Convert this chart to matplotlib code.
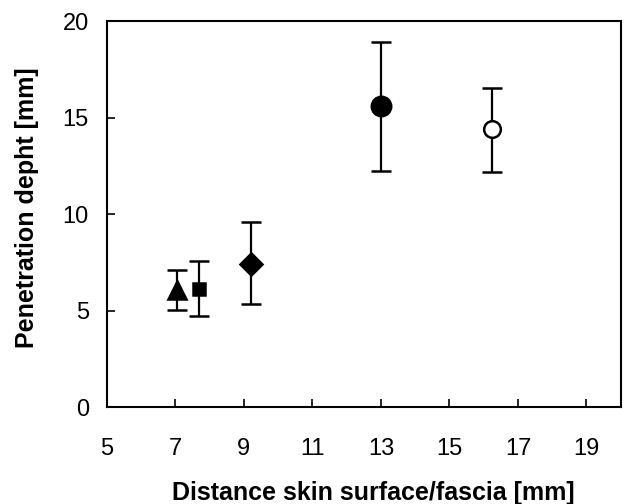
import matplotlib
matplotlib.use("Agg")
import matplotlib.pyplot as plt

plt.rcParams['font.family'] = ['Liberation Sans', 'DejaVu Sans']

x_vals = [7.05, 7.7, 9.2, 13.0, 16.25]
y_vals = [6.06, 6.1, 7.44, 15.6, 14.39]
err_low = [5.06, 4.75, 5.33, 12.23, 12.19]
err_high = [7.13, 7.58, 9.58, 18.93, 16.56]
markers = ['^', 's', 'D', 'o', 'o']
marker_sizes = [13, 9, 11, 14, 12]
face_colors = ['black', 'black', 'black', 'black', 'white']

fig = plt.figure(figsize=(6.36, 5.04), dpi=100)
ax = fig.add_axes([0.168, 0.192, 0.808, 0.766])

for x, y, lo, hi, m, ms, fc in zip(x_vals, y_vals, err_low, err_high, markers, marker_sizes, face_colors):
    ax.errorbar([x], [y], yerr=[[y - lo], [hi - y]], fmt=m, ms=ms, mfc=fc, mec='black',
                mew=1.8, ecolor='black', elinewidth=1.6, capsize=7, capthick=1.6, zorder=3)

ax.set_xlim(5, 20)
ax.set_ylim(0, 20)
ax.set_xticks([5, 7, 9, 11, 13, 15, 17, 19])
ax.set_yticks([0, 5, 10, 15, 20])
ax.tick_params(direction='in', length=6, width=1.2, labelsize=17)
ax.tick_params(axis='x', pad=22)
ax.tick_params(axis='y', pad=13)
for s in ax.spines.values():
    s.set_linewidth(1.5)
ax.set_xlabel('Distance skin surface/fascia [mm]', fontsize=18, fontweight='bold')
ax.set_ylabel('Penetration depht [mm]', fontsize=18, fontweight='bold')
ax.xaxis.label.set_va('center')
ax.yaxis.label.set_va('center')
ax.xaxis.set_label_coords(0.518, -0.223)
ax.yaxis.set_label_coords(-0.156, 0.518)

fig.savefig('out.png', dpi=100)
